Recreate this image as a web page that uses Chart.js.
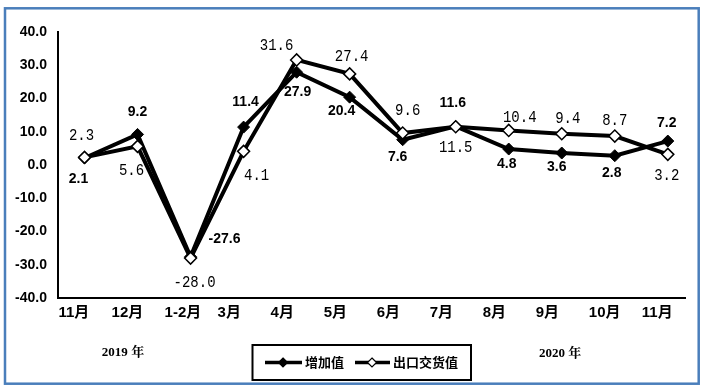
<!DOCTYPE html>
<html>
<head>
<meta charset="utf-8">
<script src="https://cdn.jsdelivr.net/npm/chart.js@4/dist/chart.umd.min.js"></script>
<style>
  html, body { margin: 0; padding: 0; background: #ffffff; }
  #wrap { width: 705px; height: 389px; position: relative; }
</style>
</head>
<body>
<div id="wrap"><canvas id="c" width="705" height="389"></canvas></div>
<script>
// ---- data ----
const categories = ['11月', '12月', '1-2月', '3月', '4月', '5月', '6月', '7月', '8月', '9月', '10月', '11月'];
const addedValue = [2.1, 9.2, -27.6, 11.4, 27.9, 20.4, 7.6, 11.6, 4.8, 3.6, 2.8, 7.2];
const exportDelivery = [2.3, 5.6, -28.0, 4.1, 31.6, 27.4, 9.6, 11.5, 10.4, 9.4, 8.7, 3.2];
const seriesNames = ['增加值', '出口交货值'];
const yearLabels = ['2019 年', '2020 年'];
const yTicks = [-40, -30, -20, -10, 0, 10, 20, 30, 40];

// ---- label placement (pixel offsets from each point) ----
const addedLabelOffsets = [[-6,21],[0,-22],[34,-18],[2,-25],[1,20],[-8,14],[-5,17],[-3,-23],[-2,15],[-5,14],[-3,17],[-1,-18]];
const exportLabelOffsets = [[-3,-22],[-6,24],[4,24],[13,24],[-20,-14],[2,-17],[5,-23],[0,21],[11,-13],[6,-15],[0,-16],[-1,21]];

const SANS = '"Liberation Sans", Arial, "Noto Sans CJK SC", sans-serif';
const MONO = '"Liberation Mono", "Noto Sans CJK SC", monospace';
const SERIF = '"Liberation Serif", "Noto Serif CJK SC", "Noto Sans CJK SC", serif';

const labelsPlugin = {
  id: 'valueLabels',
  afterDatasetsDraw(chart) {
    const ctx = chart.ctx;
    ctx.save();
    ctx.fillStyle = '#000';
    ctx.textAlign = 'center';
    ctx.textBaseline = 'middle';
    // 增加值 labels
    const m0 = chart.getDatasetMeta(0);
    ctx.font = 'bold 14px ' + SANS;
    m0.data.forEach((pt, i) => {
      const o = addedLabelOffsets[i];
      ctx.fillText(addedValue[i].toFixed(1), pt.x + o[0], pt.y + o[1]);
    });
    // 出口交货值 labels
    const m1 = chart.getDatasetMeta(1);
    ctx.font = '14px ' + MONO;
    m1.data.forEach((pt, i) => {
      const o = exportLabelOffsets[i];
      ctx.save();
      ctx.translate(pt.x + o[0], pt.y + o[1]);
      ctx.scale(1, 1.2);
      ctx.fillText(exportDelivery[i].toFixed(1), 0, 0);
      ctx.restore();
    });
    ctx.restore();
  }
};

function diamond(ctx, x, y, r, fill) {
  ctx.beginPath();
  ctx.moveTo(x, y - r);
  ctx.lineTo(x + r, y);
  ctx.lineTo(x, y + r);
  ctx.lineTo(x - r, y);
  ctx.closePath();
  ctx.fillStyle = fill;
  ctx.fill();
  ctx.lineWidth = 1.2;
  ctx.strokeStyle = '#000';
  ctx.stroke();
}

const decorPlugin = {
  id: 'decor',
  beforeDatasetsDraw(chart) {
    const ctx = chart.ctx;
    const a = chart.chartArea;
    // x axis line (stops short of the right edge, as in the original)
    ctx.save();
    ctx.strokeStyle = '#000';
    ctx.lineWidth = 2;
    ctx.beginPath();
    ctx.moveTo(a.left, a.bottom);
    ctx.lineTo(686, a.bottom);
    ctx.stroke();
    ctx.restore();
  },
  afterDraw(chart) {
    const ctx = chart.ctx;
    ctx.save();
    // year labels
    ctx.fillStyle = '#000';
    ctx.font = 'bold 13px ' + SERIF;
    ctx.textAlign = 'center';
    ctx.textBaseline = 'middle';
    ctx.fillText(yearLabels[0], 123, 353);
    ctx.fillText(yearLabels[1], 560, 354);

    // legend box
    ctx.lineWidth = 2;
    ctx.strokeStyle = '#000';
    ctx.strokeRect(252.5, 345, 218.5, 35);
    const ly = 362.5;
    ctx.lineWidth = 3.5;
    ctx.beginPath(); ctx.moveTo(265, ly); ctx.lineTo(302, ly); ctx.stroke();
    diamond(ctx, 283, ly, 4.5, '#000');
    ctx.lineWidth = 3.5;
    ctx.beginPath(); ctx.moveTo(355, ly); ctx.lineTo(390, ly); ctx.stroke();
    diamond(ctx, 372, ly, 4.5, '#fff');
    ctx.fillStyle = '#000';
    ctx.font = 'bold 13px ' + SANS;
    ctx.textAlign = 'left';
    ctx.fillText(seriesNames[0], 305, ly + 0.5);
    ctx.fillText(seriesNames[1], 393, ly + 0.5);

    // outer blue frame
    ctx.lineWidth = 2.5;
    ctx.strokeStyle = '#4a7ebb';
    ctx.strokeRect(5, 8.3, 693.7, 375.4);
    ctx.restore();
  }
};

new Chart(document.getElementById('c'), {
  type: 'line',
  data: {
    labels: categories,
    datasets: [
      {
        label: seriesNames[0],
        data: addedValue,
        borderColor: '#000',
        borderWidth: 4,
        backgroundColor: '#000',
        pointStyle: 'rectRot',
        pointRadius: 6,
        pointBackgroundColor: '#000',
        pointBorderColor: '#000',
        pointBorderWidth: 1,
        tension: 0,
        order: 1
      },
      {
        label: seriesNames[1],
        data: exportDelivery,
        borderColor: '#000',
        borderWidth: 4,
        backgroundColor: '#fff',
        pointStyle: 'rectRot',
        pointRadius: 6,
        pointBackgroundColor: '#fff',
        pointBorderColor: '#000',
        pointBorderWidth: 1.5,
        tension: 0,
        order: 0
      }
    ]
  },
  options: {
    responsive: false,
    animation: false,
    devicePixelRatio: 1,
    layout: { padding: { left: 0, right: 8, top: 32, bottom: 61 } },
    plugins: { legend: { display: false }, tooltip: { enabled: false } },
    scales: {
      x: {
        offset: true,
        grid: { display: false, drawTicks: false },
        border: { display: false },
        ticks: {
          color: '#000',
          font: { family: SANS, size: 15, weight: 'bold' },
          align: 'start',
          labelOffset: -26,
          padding: 6,
          maxRotation: 0,
          autoSkip: false
        },
        afterFit: (s) => { s.height = 30; }
      },
      y: {
        min: yTicks[0],
        max: yTicks[yTicks.length - 1],
        grid: { display: false, drawTicks: false },
        border: { display: true, color: '#000', width: 2 },
        afterBuildTicks: (s) => { s.ticks = yTicks.map(v => ({ value: v })); },
        ticks: {
          color: '#000',
          font: { family: SANS, size: 14, weight: 'bold' },
          padding: 11,
          callback: (v) => Number(v).toFixed(1)
        },
        afterFit: (s) => { s.width = 58; }
      }
    }
  },
  plugins: [labelsPlugin, decorPlugin]
});
</script>
</body>
</html>
